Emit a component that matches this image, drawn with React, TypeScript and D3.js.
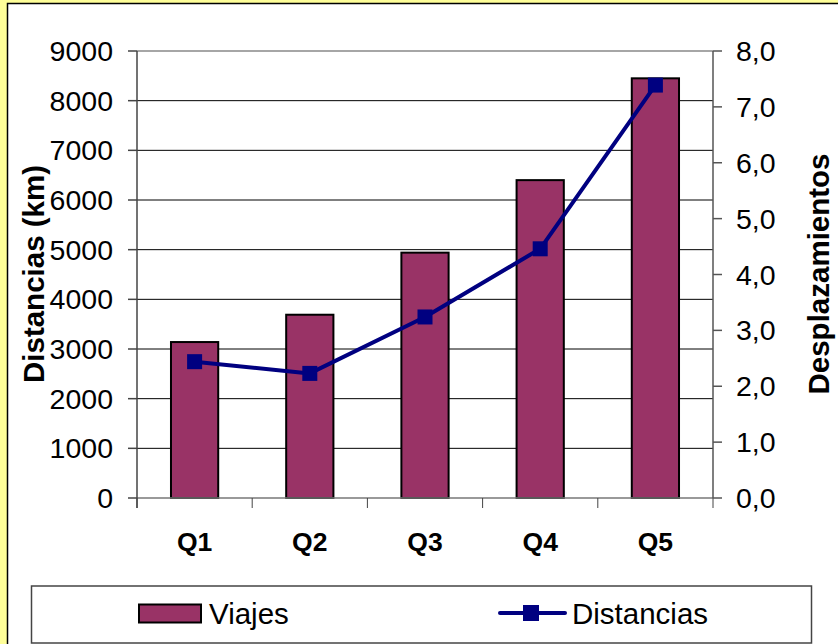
import React from 'react';
import * as d3 from 'd3';

const categories = ['Q1', 'Q2', 'Q3', 'Q4', 'Q5'];
const viajes = [3140, 3690, 4940, 6400, 8450];
const distancias = [2.44, 2.23, 3.24, 4.46, 7.39];
const leftTicks = [0, 1000, 2000, 3000, 4000, 5000, 6000, 7000, 8000, 9000];
const rightTicks = [0, 1, 2, 3, 4, 5, 6, 7, 8];

const W = 838;
const H = 644;
const plot = { left: 137, right: 713, top: 51, bottom: 498 };
const FONT = '"Liberation Sans", Arial, sans-serif';
const BAR = '#993366';
const NAVY = '#000080';

const App: React.FC = () => {
  const x = d3
    .scaleBand<string>()
    .domain(categories)
    .range([plot.left, plot.right])
    .padding(0);
  const yLeft = d3.scaleLinear().domain([0, 9000]).range([plot.bottom, plot.top]);
  const yRight = d3.scaleLinear().domain([0, 8]).range([plot.bottom, plot.top]);

  const barW = x.bandwidth() * 0.41;
  const cx = (c: string) => (x(c) as number) + x.bandwidth() / 2;

  const line = d3
    .line<number>()
    .x((_, i) => cx(categories[i]))
    .y((d) => yRight(d));

  // boundaries between categories for the bottom ticks
  const bounds = categories.map((c) => x(c) as number).concat([plot.right]);
  const fmtRight = (v: number) => v.toFixed(1).replace('.', ',');

  return (
    <div style={{ position: 'fixed', left: 0, top: 0 }}>
      <svg width={W} height={H} style={{ display: 'block', fontFamily: FONT }}>
        <rect x={0} y={0} width={W} height={H} fill="#FFFF99" />
        <rect x={7.5} y={3.5} width={W} height={H} fill="#fff" stroke="#000" strokeWidth={1.5} />

        {/* gridlines */}
        {leftTicks.slice(1, -1).map((t) => (
          <line key={t} x1={plot.left} x2={plot.right} y1={yLeft(t)} y2={yLeft(t)} stroke="#000" strokeWidth={1} />
        ))}
        <line x1={plot.left} x2={plot.right} y1={plot.top} y2={plot.top} stroke="#888" strokeWidth={1.5} />

        {/* bars */}
        {viajes.map((v, i) => (
          <rect
            key={i}
            x={cx(categories[i]) - barW / 2}
            y={yLeft(v)}
            width={barW}
            height={plot.bottom - yLeft(v)}
            fill={BAR}
            stroke="#000"
            strokeWidth={2}
          />
        ))}

        {/* axes */}
        <line x1={plot.left} x2={plot.right} y1={plot.bottom} y2={plot.bottom} stroke="#777" strokeWidth={1.5} />
        <line x1={plot.left} x2={plot.left} y1={plot.top} y2={plot.bottom + 10} stroke="#444" strokeWidth={1.5} />
        <line x1={plot.right} x2={plot.right} y1={plot.top} y2={plot.bottom} stroke="#555" strokeWidth={1.5} />
        {bounds.map((b, i) => (
          <line key={i} x1={b} x2={b} y1={plot.bottom} y2={plot.bottom + 10} stroke="#444" strokeWidth={1} />
        ))}
        {leftTicks.map((t) => (
          <g key={t}>
            <line x1={plot.left - 9} x2={plot.left} y1={yLeft(t)} y2={yLeft(t)} stroke="#444" strokeWidth={1.5} />
            <text x={113} y={yLeft(t) + 10} textAnchor="end" fontSize={28.5} fill="#000">
              {t}
            </text>
          </g>
        ))}
        {rightTicks.map((t) => (
          <g key={t}>
            <line x1={plot.right} x2={plot.right + 9} y1={yRight(t)} y2={yRight(t)} stroke="#555" strokeWidth={1.5} />
            <text x={736} y={yRight(t) + 10} textAnchor="start" fontSize={28.5} fill="#000">
              {fmtRight(t)}
            </text>
          </g>
        ))}
        {categories.map((c) => (
          <text key={c} x={cx(c)} y={551} textAnchor="middle" fontSize={26.5} fontWeight="bold" fill="#000">
            {c}
          </text>
        ))}

        {/* axis titles */}
        <text transform="translate(44,274) rotate(-90)" textAnchor="middle" fontSize={29.5} fontWeight="bold">
          Distancias (km)
        </text>
        <text transform="translate(829,274) rotate(-90)" textAnchor="middle" fontSize={29.5} fontWeight="bold">
          Desplazamientos
        </text>

        {/* line series */}
        <path d={line(distancias) || ''} fill="none" stroke={NAVY} strokeWidth={4} strokeLinejoin="round" />
        {distancias.map((d, i) => (
          <rect key={i} x={cx(categories[i]) - 7.5} y={yRight(d) - 7.5} width={15} height={15} fill={NAVY} />
        ))}

        {/* legend */}
        <rect x={31.5} y={586} width={780} height={57} fill="#fff" stroke="#444" strokeWidth={1.5} />
        <rect x={139} y={604.5} width={62} height={18} fill={BAR} stroke="#000" strokeWidth={2} />
        <text x={209} y={624} fontSize={29.5}>
          Viajes
        </text>
        <line x1={500} x2={565} y1={613} y2={613} stroke={NAVY} strokeWidth={4} strokeLinecap="round" />
        <rect x={523} y={605} width={16} height={16} fill={NAVY} />
        <text x={572} y={624} fontSize={29.5}>
          Distancias
        </text>
      </svg>
    </div>
  );
};

export default App;
